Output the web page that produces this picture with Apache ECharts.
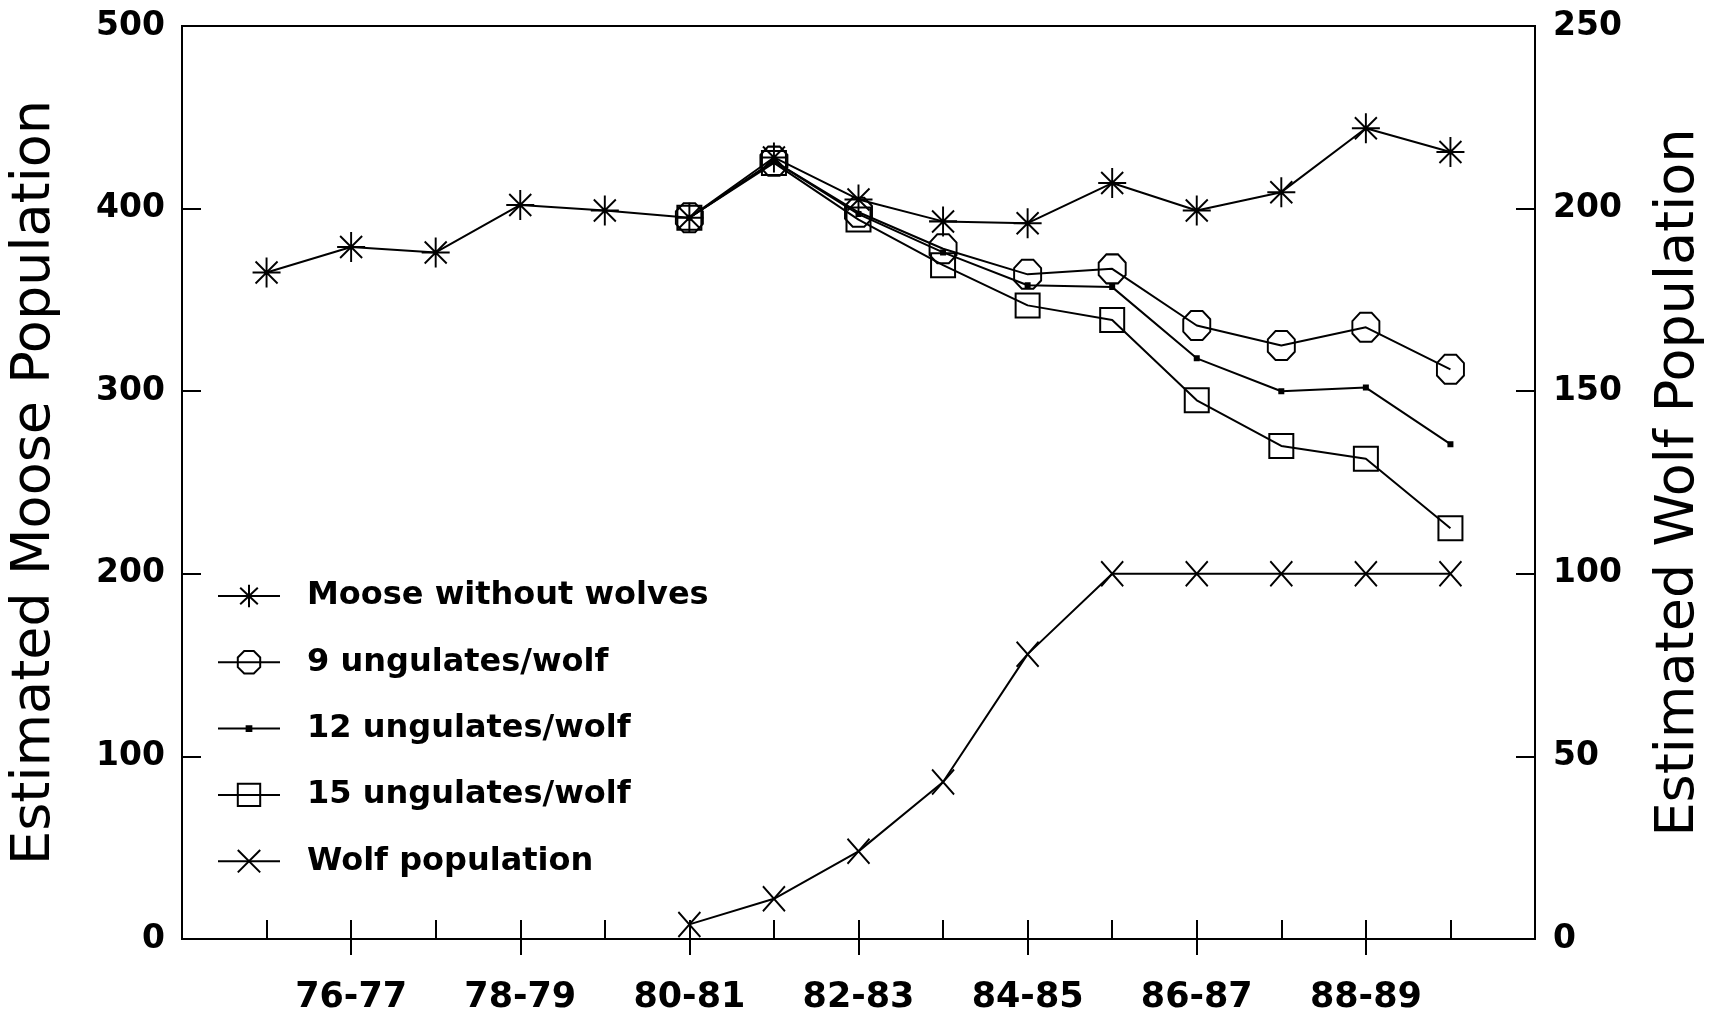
<!DOCTYPE html>
<html>
<head>
<meta charset="utf-8">
<script src="https://cdn.jsdelivr.net/npm/echarts@6/dist/echarts.min.js"></script>
<style>
html,body{margin:0;padding:0;background:#fff;}
#chart{width:1721px;height:1018px;}
</style>
</head>
<body>
<div id="chart"></div>
<script>
// ---- data ----
const seasons = ['74-75','75-76','76-77','77-78','78-79','79-80','80-81','81-82','82-83','83-84','84-85','85-86','86-87','87-88','88-89','89-90','90-91'];
const xTickLabels = ['76-77','78-79','80-81','82-83','84-85','86-87','88-89'];
const mooseTicks = [0, 100, 200, 300, 400, 500];
const wolfTicks = [0, 50, 100, 150, 200, 250];
const mooseWithoutWolves = [null, 365, 379, 376, 402, 399, 395, 428, 405, 393, 392, 414, 399, 409, 444, 431, null];
const ungulates9  = [null, null, null, null, null, null, 395, 426, 398, 378, 364, 367, 336, 325, 335, 312, null];
const ungulates12 = [null, null, null, null, null, null, 395, 426, 397, 376, 358, 357, 318, 300, 302, 271, null];
const ungulates15 = [null, null, null, null, null, null, 395, 425, 394, 369, 347, 339, 295, 270, 263, 225, null];
const wolfPopulation = [null, null, null, null, null, null, 4, 11, 24, 43, 78, 100, 100, 100, 100, 100, null];
const seriesNames = ['Moose without wolves', '9 ungulates/wolf', '12 ungulates/wolf', '15 ungulates/wolf', 'Wolf population'];

// ---- styles ----
const FONT = 'DejaVu Sans';
const SYM_ASTERISK = 'path://M14,0 L14,30 M0,15 L28,15 M3,4 L25,26 M25,4 L3,26';
const SYM_OCTAGON = 'path://M8,0 L20,0 L28,8 L28,20 L20,28 L8,28 L0,20 L0,8 Z';
const SYM_SQUARE = 'path://M0,0 L24,0 L24,24 L0,24 Z';
const SYM_DOT = 'path://M0,0 L0.01,0 M20,20 L20.01,20 M7,7 L13,7 L13,13 L7,13 Z';
const SYM_X = 'path://M0,0 L22,25 M22,0 L0,25';

const isLabelIdx = (idx) => xTickLabels.indexOf(seasons[idx]) >= 0;

function mkSeries(name, data, symbol, size, yIdx, filled) {
  return {
    name: name,
    type: 'line',
    data: data,
    xAxisIndex: 0,
    yAxisIndex: yIdx,
    symbol: symbol,
    symbolSize: size,
    showAllSymbol: true,
    connectNulls: false,
    lineStyle: { color: '#000', width: 2 },
    itemStyle: filled
      ? { color: '#000', borderColor: '#000', borderWidth: 0 }
      : { color: 'rgba(255,255,255,0)', borderColor: '#000', borderWidth: 2 },
    emphasis: { disabled: true },
    animation: false
  };
}

const chart = echarts.init(document.getElementById('chart'), null, { renderer: 'canvas' });
chart.setOption({
  backgroundColor: '#fff',
  animation: false,
  grid: {
    left: 179, right: 186, top: 26, bottom: 79,
    show: true, borderColor: '#000', borderWidth: 2, backgroundColor: '#fff'
  },
  legend: {
    orient: 'vertical',
    left: 212, top: 575,
    itemWidth: 62, itemHeight: 28, itemGap: 34.3,
    selectedMode: false,
    data: seriesNames,
    textStyle: { fontFamily: FONT, fontWeight: 'bold', fontSize: 32, color: '#000', lineHeight: 28, padding: [0, 0, 0, 22] }
  },
  xAxis: [
    {
      type: 'category', data: seasons, boundaryGap: false, position: 'bottom',
      axisLine: { show: true, lineStyle: { color: '#000', width: 2 } },
      axisTick: { show: true, inside: true, length: 19, interval: 0, lineStyle: { color: '#000', width: 2 } },
      axisLabel: { show: false },
      splitLine: { show: false }
    },
    {
      type: 'category', data: seasons, boundaryGap: false, position: 'bottom',
      axisLine: { show: false },
      axisTick: { show: true, inside: false, length: 16, interval: (idx) => isLabelIdx(idx), lineStyle: { color: '#000', width: 2 } },
      axisLabel: { show: true, interval: (idx) => isLabelIdx(idx), margin: 41, fontFamily: FONT, fontWeight: 'bold', fontSize: 35, color: '#000' },
      splitLine: { show: false }
    }
  ],
  yAxis: [
    {
      type: 'value', position: 'left',
      min: mooseTicks[0], max: mooseTicks[mooseTicks.length - 1], interval: mooseTicks[1] - mooseTicks[0],
      name: 'Estimated Moose Population', nameLocation: 'middle', nameRotate: 90, nameGap: 120,
      nameTextStyle: { fontFamily: FONT, fontSize: 54, color: '#000' },
      axisLine: { show: true, lineStyle: { color: '#000', width: 2 } },
      axisTick: { show: true, inside: true, length: 19, lineStyle: { color: '#000', width: 2 } },
      axisLabel: { margin: 17, fontFamily: FONT, fontWeight: 'bold', fontSize: 33, color: '#000' },
      splitLine: { show: false }
    },
    {
      type: 'value', position: 'right',
      min: wolfTicks[0], max: wolfTicks[wolfTicks.length - 1], interval: wolfTicks[1] - wolfTicks[0],
      name: 'Estimated Wolf Population', nameLocation: 'middle', nameRotate: 90, nameGap: 117,
      nameTextStyle: { fontFamily: FONT, fontSize: 54, color: '#000' },
      axisLine: { show: true, lineStyle: { color: '#000', width: 2 } },
      axisTick: { show: true, inside: true, length: 19, lineStyle: { color: '#000', width: 2 } },
      axisLabel: { margin: 18, fontFamily: FONT, fontWeight: 'bold', fontSize: 33, color: '#000' },
      splitLine: { show: false }
    }
  ],
  series: [
    mkSeries(seriesNames[0], mooseWithoutWolves, SYM_ASTERISK, [28, 30], 0, false),
    mkSeries(seriesNames[1], ungulates9, SYM_OCTAGON, [27, 29], 0, false),
    mkSeries(seriesNames[2], ungulates12, SYM_DOT, 20, 0, true),
    mkSeries(seriesNames[3], ungulates15, SYM_SQUARE, 24, 0, false),
    mkSeries(seriesNames[4], wolfPopulation, SYM_X, [22, 25], 1, false)
  ]
});
</script>
</body>
</html>
